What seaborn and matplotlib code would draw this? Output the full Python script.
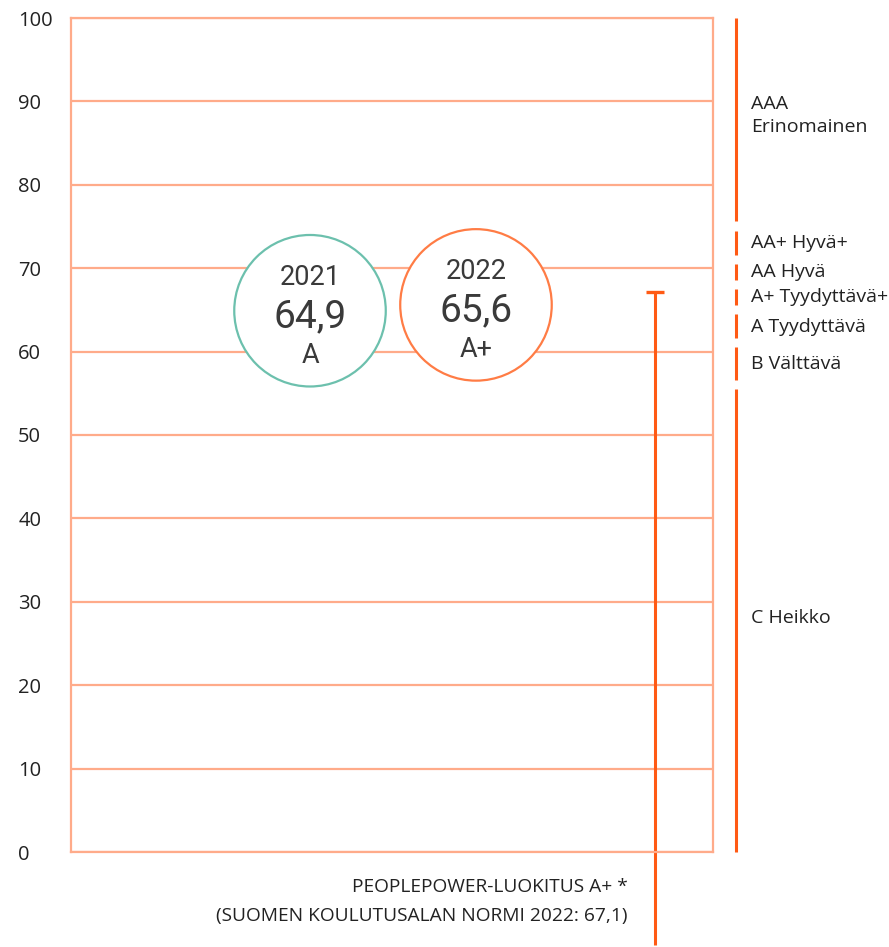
import matplotlib
matplotlib.use("Agg")
import matplotlib.pyplot as plt
import matplotlib.transforms as mtransforms
import seaborn as sns
import pandas as pd

# data
years = ["2021", "2022"]
scores = [64.9, 65.6]
score_labels = ["64,9", "65,6"]
grades = ["A", "A+"]
norm_value = 67.1

band_edges = [0, 56, 61, 65, 68, 71, 75, 100]
band_labels = ["C Heikko", "B Välttävä", "A Tyydyttävä", "A+ Tyydyttävä+",
               "AA Hyvä", "AA+ Hyvä+", "AAA\nErinomainen"]

yticks = list(range(0, 101, 10))

grid_col = "#ffab8a"
line_col = "#ff5a14"
circle_cols = ["#6cc0ad", "#ff7c45"]
text_col = "#3a3a3a"

sns.set_style("white")
plt.rcParams['font.family'] = ['Open Sans', 'DejaVu Sans']

fig = plt.figure(figsize=(8.89, 9.47), dpi=100)
ax = fig.add_axes([71 / 889, 1 - 852 / 947, 642 / 889, 834 / 947])

df = pd.DataFrame({"pos": [0, 1], "score": scores, "year": years})

# circles
sns.scatterplot(data=df, x="pos", y="score", hue="year", palette=circle_cols,
                s=11900, linewidth=1.6, legend=False, ax=ax, zorder=3)
for coll in ax.collections:
    coll.set_facecolor("white")
    coll.set_edgecolors(circle_cols)

slab = ["Roboto", "DejaVu Sans"]
for i in range(len(years)):
    ax.annotate(years[i], (i, scores[i]), xytext=(0, 24), textcoords="offset points",
                ha="center", va="center", fontsize=19.5, family=slab,
                color=text_col, zorder=4)
    ax.annotate(score_labels[i], (i, scores[i]), xytext=(0, -4), textcoords="offset points",
                ha="center", va="center", fontsize=28, family=slab,
                color=text_col, zorder=4)
    ax.annotate(grades[i], (i, scores[i]), xytext=(0, -32), textcoords="offset points",
                ha="center", va="center", fontsize=19.5, family=slab,
                color=text_col, zorder=4)

# norm marker
norm_x = 2.08
ax.plot([norm_x, norm_x], [norm_value, -11.2], color=line_col, lw=2.2,
        clip_on=False, zorder=2, solid_capstyle="butt")
ax.plot([norm_x], [norm_value], marker="_", markersize=13, mew=2.4,
        color=line_col, clip_on=False, zorder=2)

ax.set_xlim(-1.44, 2.428)
ax.set_ylim(0, 100)
ax.set_yticks(yticks)
ax.set_yticklabels([str(t) for t in yticks])
ax.set_xticks([])
ax.tick_params(axis="y", length=0, pad=38, labelsize=14.5, labelcolor="#222222")
for lab in ax.get_yticklabels():
    lab.set_horizontalalignment("left")
ax.yaxis.grid(True, color=grid_col, lw=1.6)
ax.set_axisbelow(True)
for sp in ax.spines.values():
    sp.set_visible(True)
    sp.set_color(grid_col)
    sp.set_linewidth(1.6)
ax.set_xlabel("")
ax.set_ylabel("")

# rating bands on the right
trans = mtransforms.blended_transform_factory(fig.transFigure, ax.transData)
for k in range(len(band_labels)):
    lo, hi = band_edges[k], band_edges[k + 1]
    y0 = lo + 0.6 if lo > 0 else lo
    y1 = hi - 0.5 if hi < 100 else hi
    ax.plot([736 / 889, 736 / 889], [y0, y1], transform=trans, color=line_col,
            lw=2.2, clip_on=False, solid_capstyle="butt")
    ax.text(751 / 889, (lo + hi) / 2 + (0.8 if k == len(band_labels) - 1 else 0),
            band_labels[k], transform=trans, ha="left", va="center",
            fontsize=14, color="#222222", linespacing=1.3)

fig.text(628 / 889, 1 - 887 / 947, "PEOPLEPOWER-LUOKITUS A+ *", ha="right",
         va="center", fontsize=13.8, color="#222222")
fig.text(628 / 889, 1 - 916 / 947, "(SUOMEN KOULUTUSALAN NORMI 2022: 67,1)",
         ha="right", va="center", fontsize=13.8, color="#222222")

fig.savefig("out.png", dpi=100)
